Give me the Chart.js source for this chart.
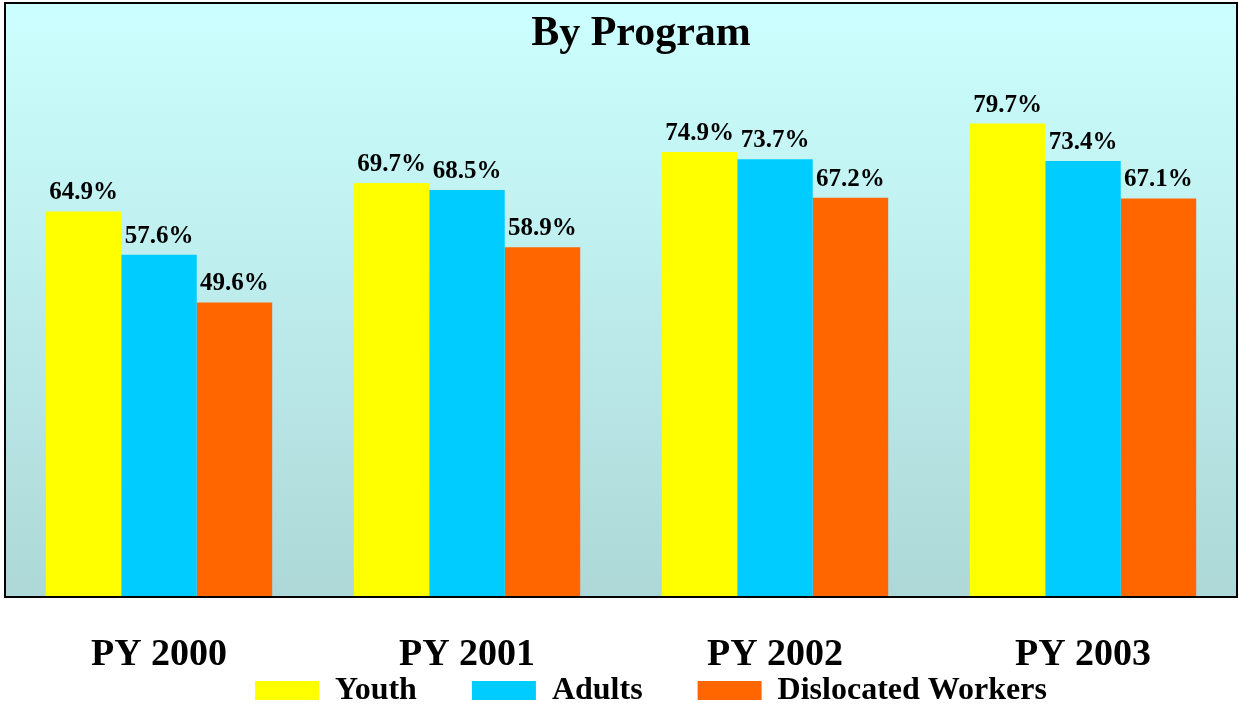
<!DOCTYPE html>
<html>
<head>
<meta charset="utf-8">
<script src="https://cdn.jsdelivr.net/npm/chart.js@4"></script>
<style>
  body { margin: 0; background: #fff; }
</style>
</head>
<body>
<canvas id="myChart" width="1239" height="709"></canvas>
<script>
var years = ["PY 2000", "PY 2001", "PY 2002", "PY 2003"];
var youth = [64.9, 69.7, 74.9, 79.7];
var adults = [57.6, 68.5, 73.7, 73.4];
var dislocated = [49.6, 58.9, 67.2, 67.1];

var serif = '"Liberation Serif", "Times New Roman", serif';

// gradient plot background + black frame
var plotBg = {
    id: 'plotBg',
    beforeDatasetsDraw: function (chart) {
        var a = chart.chartArea, c = chart.ctx;
        var g = c.createLinearGradient(0, a.top, 0, a.bottom);
        g.addColorStop(0, '#CCFFFF');
        g.addColorStop(1, '#AED8D8');
        c.save();
        c.fillStyle = g;
        c.fillRect(a.left, a.top, a.right - a.left, a.bottom - a.top);
        c.restore();
    },
    afterDatasetsDraw: function (chart) {
        var a = chart.chartArea, c = chart.ctx;
        c.save();
        c.strokeStyle = '#000';
        c.lineWidth = 2;
        c.strokeRect(a.left, a.top, a.right - a.left, a.bottom - a.top);
        // title sits inside the plot
        c.fillStyle = '#000';
        c.font = 'bold 42px ' + serif;
        c.textAlign = 'center';
        c.textBaseline = 'alphabetic';
        c.fillText('By Program', 641, 45);
        c.restore();
    }
};

// value labels above bars
var barLabels = {
    id: 'barLabels',
    afterDatasetsDraw: function (chart) {
        var c = chart.ctx;
        c.save();
        c.fillStyle = '#000';
        c.font = 'bold 25px ' + serif;
        c.textAlign = 'center';
        c.textBaseline = 'alphabetic';
        chart.data.datasets.forEach(function (ds, i) {
            chart.getDatasetMeta(i).data.forEach(function (bar, j) {
                c.fillText(ds.data[j].toFixed(1) + '%', bar.x, bar.y - 12);
            });
        });
        c.restore();
    }
};

// small legend box, then moved to sit just under the year labels
var legendFix = {
    id: 'legendFix',
    beforeInit: function (chart) {
        var lg = chart.legend;
        var origFit = lg.fit;
        lg.fit = function () {
            origFit.call(this);
            this.height = 27;
        };
    },
    afterLayout: function (chart) {
        var lg = chart.legend;
        lg.left += 30;
        lg.right += 30;
        lg.top = 619.5;
        lg.bottom = chart.height;
    }
};

var ctx = document.getElementById("myChart");
var myChart = new Chart(ctx, {
    type: 'bar',
    data: {
        labels: years,
        datasets: [{
            label: 'Youth',
            data: youth,
            backgroundColor: '#FFFF00'
        }, {
            label: 'Adults',
            data: adults,
            backgroundColor: '#00CCFF'
        }, {
            label: 'Dislocated Workers',
            data: dislocated,
            backgroundColor: '#FF6600'
        }]
    },
    plugins: [plotBg, barLabels, legendFix],
    options: {
        responsive: false,
        animation: false,
        layout: { padding: { left: 5, right: 2, top: 3, bottom: 0 } },
        datasets: {
            bar: { categoryPercentage: 0.735, barPercentage: 1.0 }
        },
        scales: {
            y: { display: false, min: 0, max: 100 },
            x: {
                grid: { display: false, drawTicks: false },
                border: { display: false },
                afterFit: function (scale) { scale.height = 85; },
                ticks: {
                    color: '#000',
                    padding: 35,
                    font: { family: serif, size: 38, weight: 'bold' }
                }
            }
        },
        plugins: {
            title: { display: false },
            tooltip: { enabled: false },
            legend: {
                position: 'bottom',
                labels: {
                    boxWidth: 64,
                    boxHeight: 19,
                    padding: 55,
                    color: '#000',
                    font: { family: serif, size: 32, weight: 'bold' }
                }
            }
        }
    }
});
</script>
</body>
</html>
